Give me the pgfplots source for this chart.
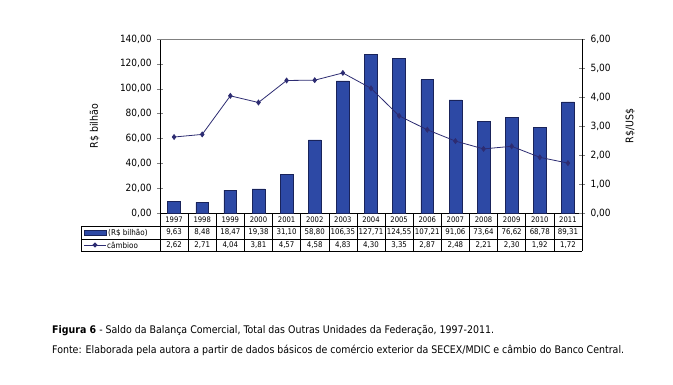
\documentclass[border=0pt]{standalone}
\usepackage{pgfplots}
\pgfplotsset{compat=1.18}
\usepackage{pgfplotstable}
\usepackage{fontspec}
\setmainfont{DejaVu Sans Condensed}
\definecolor{barblue}{RGB}{45,73,165}
\definecolor{baredge}{RGB}{25,35,90}
\definecolor{linenavy}{RGB}{45,44,114}
\pgfplotstableread{
x year saldo cambio
0 1997 9.63 2.62
1 1998 8.48 2.71
2 1999 18.47 4.04
3 2000 19.38 3.81
4 2001 31.10 4.57
5 2002 58.80 4.58
6 2003 106.35 4.83
7 2004 127.71 4.30
8 2005 124.55 3.35
9 2006 107.21 2.87
10 2007 91.06 2.48
11 2008 73.64 2.21
12 2009 76.62 2.30
13 2010 68.78 1.92
14 2011 89.31 1.72
}\data
\pgfplotsset{
  numfmt/.style={/pgf/number format/fixed, /pgf/number format/fixed zerofill, /pgf/number format/precision=2, /pgf/number format/use comma, /pgf/number format/1000 sep={}, /pgf/number format/assume math mode=true},
}
\begin{document}
\begin{tikzpicture}[x=1bp,y=1bp]
\path[use as bounding box] (0,0) rectangle (673,384);
\begin{axis}[
  at={(160bp,171bp)}, anchor=south west,
  width=422bp, height=174bp, scale only axis,
  xmin=-0.5, xmax=14.5, ymin=0, ymax=140,
  ytick={0,20,...,140},
  axis x line*=bottom, axis y line*=left,
  xtick=\empty,
  tick align=center, major tick length=6bp,
  yticklabel style={font=\fontsize{10bp}{11bp}\selectfont, xshift=-2bp},
  y tick label style={numfmt},
  ylabel={R\$ bilhão},
  ylabel style={at={(axis description cs:-0.155,0.5)}, anchor=center, rotate=0, font=\fontsize{10.5bp}{12bp}\selectfont},
  axis line style={black, line width=0.8bp},
  ybar, bar width=12.8bp,
  clip=false,
]
\addplot[fill=barblue, draw=baredge, line width=0.6bp] table[x=x, y=saldo] {\data};
\end{axis}
\begin{axis}[
  at={(160bp,171bp)}, anchor=south west,
  width=422bp, height=174bp, scale only axis,
  xmin=-0.5, xmax=14.5, ymin=0, ymax=6,
  ytick={0,1,...,6},
  axis y line*=right, axis x line=none,
  tick align=center, major tick length=6bp,
  yticklabel style={font=\fontsize{10bp}{11bp}\selectfont, xshift=2bp},
  y tick label style={numfmt},
  ylabel={R\$/US\$},
  ylabel style={at={(axis description cs:1.114,0.5)}, anchor=center, rotate=0, font=\fontsize{10.5bp}{12bp}\selectfont},
  axis line style={black, line width=0.8bp},
  clip=false,
]
\addplot[linenavy, line width=0.8bp, mark=diamond*, mark size=2.4bp, mark options={fill=linenavy}] table[x=x, y=cambio] {\data};
\end{axis}
% top frame
\draw[gray, line width=0.6bp] (160,345) -- (582,345);
% table
\begin{scope}[line width=0.6bp, black]
\draw (81,158) -- (582,158);
\draw (81,145) -- (582,145);
\draw (81,133) -- (582,133);
\draw (81,158) -- (81,133);
\foreach \k in {0,...,15} {
  \draw ({160+\k*28.133},171) -- ({160+\k*28.133},133);
}
\end{scope}
\foreach \y [count=\i from 0] in {1997,1998,1999,2000,2001,2002,2003,2004,2005,2006,2007,2008,2009,2010,2011} {
  \node[font=\fontsize{7.6bp}{8bp}\selectfont, inner sep=0pt] at ({160+(\i+0.5)*28.133},164.5) {\y};
}
\foreach \a/\b [count=\i from 0] in {9/63,8/48,18/47,19/38,31/10,58/80,106/35,127/71,124/55,107/21,91/06,73/64,76/62,68/78,89/31} {
  \node[font=\fontsize{7.8bp}{9bp}\selectfont, inner sep=0pt] at ({160+(\i+0.5)*28.133},151.5) {\a,\b};
}
\foreach \a/\b [count=\i from 0] in {2/62,2/71,4/04,3/81,4/57,4/58,4/83,4/30,3/35,2/87,2/48,2/21,2/30,1/92,1/72} {
  \node[font=\fontsize{7.8bp}{9bp}\selectfont, inner sep=0pt] at ({160+(\i+0.5)*28.133},139) {\a,\b};
}
% legend keys in table
\draw[fill=barblue, draw=baredge, line width=0.5bp] (84,149) rectangle (106,154);
\node[font=\fontsize{8bp}{9bp}\selectfont, inner sep=0pt, anchor=west] at (108,151.5) {(R\$ bilhão)};
\draw[linenavy, line width=0.8bp] (84,139) -- (106,139);
\fill[linenavy] (95,141.6) -- (97.6,139) -- (95,136.4) -- (92.4,139) -- cycle;
\node[font=\fontsize{8bp}{9bp}\selectfont, inner sep=0pt, anchor=west] at (107,139) {câmbioo};
% caption
\node[font=\fontsize{10.5bp}{12bp}\selectfont, inner sep=0pt, anchor=west] at (52,53) {\textbf{Figura 6} - Saldo da Balança Comercial, Total das Outras Unidades da Federação, 1997-2011.};
\node[font=\fontsize{10.5bp}{12bp}\selectfont, inner sep=0pt, anchor=west] at (52,34) {Fonte: Elaborada pela autora a partir de dados básicos de comércio exterior da SECEX/MDIC e câmbio do Banco Central.};
\end{tikzpicture}
\end{document}
